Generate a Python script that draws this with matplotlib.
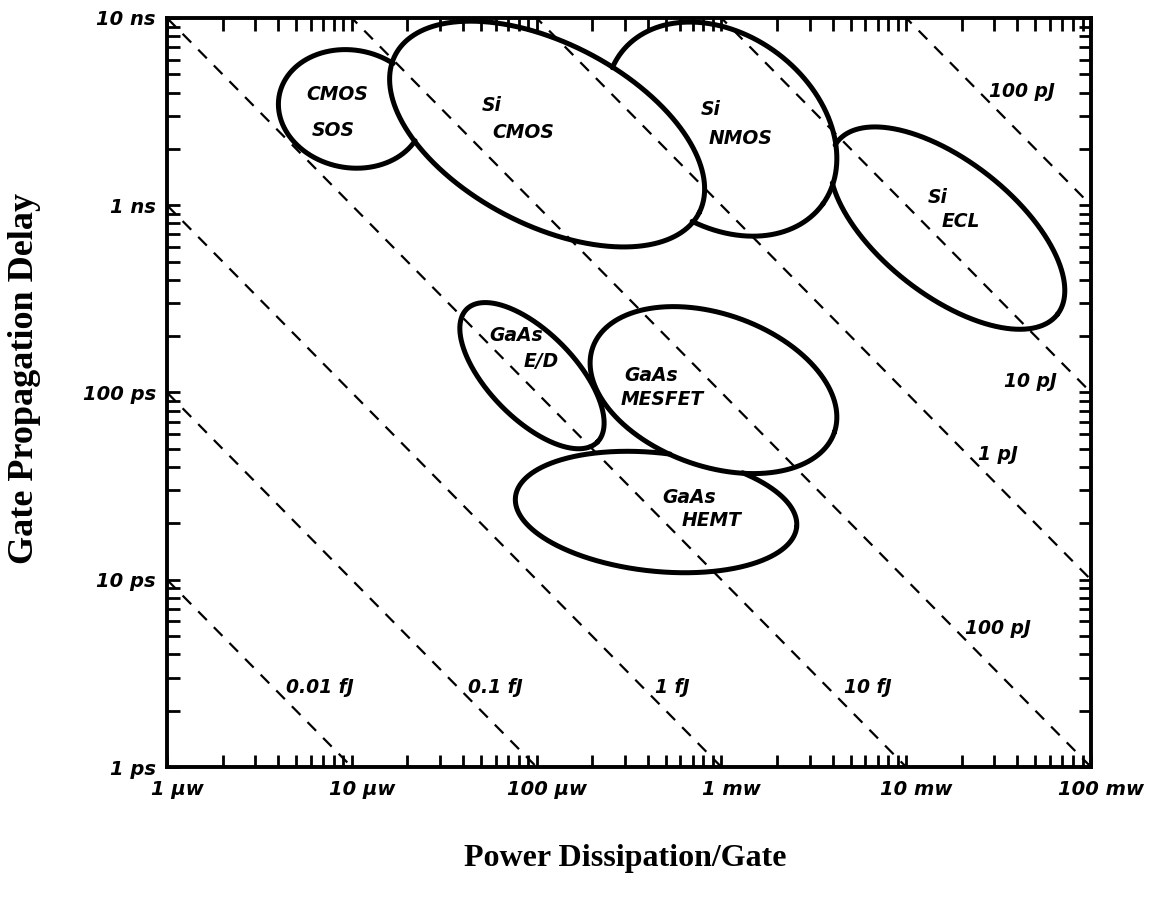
import numpy as np
import matplotlib
matplotlib.use("Agg")
import matplotlib.pyplot as plt
from matplotlib.ticker import FixedLocator, LogLocator, NullFormatter
import matplotlib.transforms as mtransforms

# ---------------- data ----------------
# constant switching-energy lines (J) and their labels
energy_j = [1e-17, 1e-16, 1e-15, 1e-14, 1e-13, 1e-12, 1e-11, 1e-10]
energy_labels = ["0.01 fJ", "0.1 fJ", "1 fJ", "10 fJ", "100 pJ", "1 pJ", "10 pJ", "100 pJ"]
energy_label_power = [6.73e-6, 5.96e-5, 5.41e-4, 6.21e-3, 3.14e-2, 3.14e-2, 4.68e-2, 4.24e-2]
energy_label_delay = [2.67e-12, 2.67e-12, 2.67e-12, 2.67e-12, 5.52e-12, 4.64e-11, 1.15e-10, 4.03e-9]

# technology regions (ellipses in log-log space)
tech_line1 = ["CMOS", "Si", "Si", "Si", "GaAs", "GaAs", "GaAs"]
tech_line2 = ["SOS", "CMOS", "NMOS", "ECL", "E/D", "MESFET", "HEMT"]
center_power_w = [9.9e-6, 1.14e-4, 1.0e-3, 1.67e-2, 9.44e-5, 9.06e-4, 4.43e-4]
center_delay_s = [3.27e-9, 2.40e-9, 2.55e-9, 7.55e-10, 1.23e-10, 1.03e-10, 2.30e-11]
semi_major_dec = [0.395, 0.924, 0.679, 0.753, 0.501, 0.692, 0.765]
semi_minor_dec = [0.314, 0.486, 0.506, 0.359, 0.232, 0.407, 0.316]
tilt_deg = [-10, -27, -36, -37.6, -45, -19, -6]
# which regions hide the outline of each region
covered_by = [[1], [], [1], [1, 2], [], [4], [4, 5]]

# label anchor points (log10 power, log10 delay)
line1_pos = [(-5.080, -8.411), (-4.241, -8.465), (-3.056, -8.491), (-1.828, -8.961),
             (-4.111, -9.693), (-3.381, -9.907), (-3.175, -10.563)]
line2_pos = [(-5.102, -8.603), (-4.074, -8.614), (-2.894, -8.646), (-1.703, -9.089),
             (-3.976, -9.832), (-3.321, -10.040), (-3.056, -10.681)]

x_ticks = [1e-6, 1e-5, 1e-4, 1e-3, 1e-2, 1e-1]
x_tick_labels = ["1 \u00b5w", "10 \u00b5w", "100 \u00b5w", "1 mw", "10 mw", "100 mw"]
y_ticks = [1e-12, 1e-11, 1e-10, 1e-9, 1e-8]
y_tick_labels = ["1 ps", "10 ps", "100 ps", "1 ns", "10 ns"]

# ---------------- figure ----------------
W, H, DPI = 1151, 905, 100
fig = plt.figure(figsize=(W / DPI, H / DPI), dpi=DPI)
fig.patch.set_facecolor("white")
ax = fig.add_axes([167 / W, 1 - 767 / H, (1091 - 167) / W, (767 - 18) / H])
ax.set_xscale("log")
ax.set_yscale("log")
ax.set_xlim(1e-6, 1e-1)
ax.set_ylim(1e-12, 1e-8)

lab_font = dict(family="DejaVu Sans", weight="bold", style="oblique")

# energy lines
P = np.logspace(-6, -1, 400)
for E in energy_j:
    ax.plot(P, E / P, color="black", lw=1.6, linestyle=(0, (5.5, 4.5)), zorder=2)
for txt, px, py in zip(energy_labels, energy_label_power, energy_label_delay):
    ax.text(px, py, txt, ha="center", va="center", fontsize=13.5, zorder=4, **lab_font)

# ellipses
phi = np.linspace(0, 2 * np.pi, 1441)


def ell_params(i):
    return (np.log10(center_power_w[i]), np.log10(center_delay_s[i]),
            semi_major_dec[i], semi_minor_dec[i], np.radians(tilt_deg[i]))


def inside(i, x, y):
    cx, cy, a, b, th = ell_params(i)
    dx, dy = x - cx, y - cy
    u = dx * np.cos(th) + dy * np.sin(th)
    v = -dx * np.sin(th) + dy * np.cos(th)
    return (u / a) ** 2 + (v / b) ** 2 < 0.985


for i in range(len(tech_line1)):
    cx, cy, a, b, th = ell_params(i)
    x = cx + a * np.cos(phi) * np.cos(th) - b * np.sin(phi) * np.sin(th)
    y = cy + a * np.cos(phi) * np.sin(th) + b * np.sin(phi) * np.cos(th)
    mask = np.zeros_like(x, dtype=bool)
    for j in covered_by[i]:
        mask |= inside(j, x, y)
    x = np.where(mask, np.nan, x)
    y = np.where(mask, np.nan, y)
    ax.plot(10 ** x, 10 ** y, color="black", lw=3.6, solid_capstyle="round", zorder=3)
    ax.text(10 ** line1_pos[i][0], 10 ** line1_pos[i][1], tech_line1[i], ha="center",
            va="center", fontsize=13.5, zorder=4, **lab_font)
    ax.text(10 ** line2_pos[i][0], 10 ** line2_pos[i][1], tech_line2[i], ha="center",
            va="center", fontsize=13.5, zorder=4, **lab_font)

# axes styling
for s in ax.spines.values():
    s.set_linewidth(2.8)
ax.xaxis.set_major_locator(FixedLocator(x_ticks))
ax.yaxis.set_major_locator(FixedLocator(y_ticks))
ax.xaxis.set_minor_locator(LogLocator(base=10, subs=np.arange(2, 10), numticks=20))
ax.yaxis.set_minor_locator(LogLocator(base=10, subs=np.arange(2, 10), numticks=20))
ax.xaxis.set_minor_formatter(NullFormatter())
ax.yaxis.set_minor_formatter(NullFormatter())
ax.set_xticklabels(x_tick_labels)
ax.set_yticklabels(y_tick_labels)
ax.tick_params(which="both", direction="in", top=True, right=True, length=9, width=2)
ax.tick_params(axis="x", which="major", pad=9)
ax.tick_params(axis="y", which="major", pad=8)
for lab in ax.get_xticklabels() + ax.get_yticklabels():
    lab.set_fontsize(14)
    lab.set_fontfamily("DejaVu Sans")
    lab.set_fontweight("bold")
    lab.set_fontstyle("oblique")
shift = mtransforms.ScaledTranslation(10 / DPI, 0, fig.dpi_scale_trans)
for lab in ax.get_xticklabels():
    lab.set_transform(lab.get_transform() + shift)

fig.text(25 / W, 1 - 378 / H, "Gate Propagation Delay", rotation=90, ha="center", va="center",
         fontsize=26, family="Liberation Serif", weight="bold")
fig.text(625 / W, 1 - 858 / H, "Power Dissipation/Gate", ha="center", va="center",
         fontsize=23, family="Liberation Serif", weight="bold")

fig.savefig("out.png", dpi=DPI, facecolor="white")
